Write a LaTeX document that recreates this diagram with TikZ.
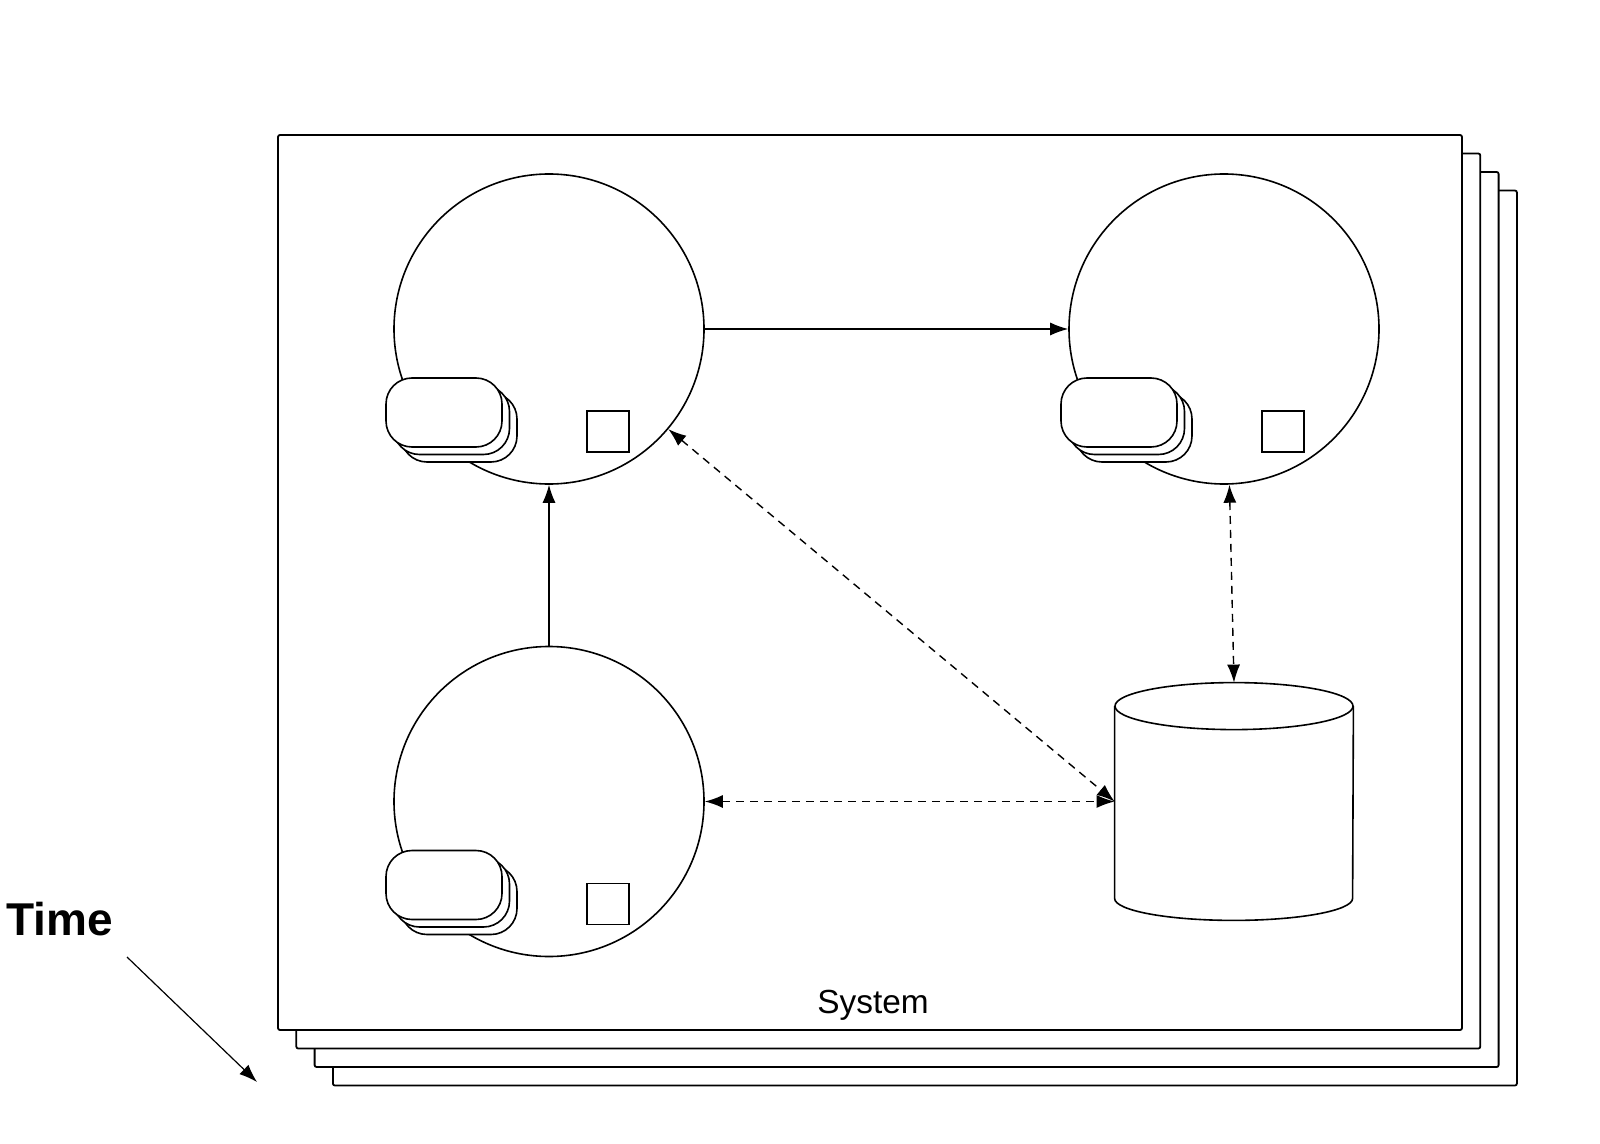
\documentclass[tikz,border=0pt]{standalone}
\usepackage{fontspec}
\setmainfont{Liberation Sans}
\usetikzlibrary{arrows.meta,positioning,shapes.geometric,calc}

\tikzset{
  page/.style={draw,fill=white,line width=0.9pt,rounded corners=1pt},
  proc/.style={circle,draw,line width=0.8pt,minimum size=155pt,inner sep=0pt},
  pill/.style={draw,fill=white,line width=0.8pt,rounded corners=13pt},
  slot/.style={draw,fill=white,line width=0.8pt},
  store/.style={rectangle,minimum width=119pt,minimum height=118.5pt,inner sep=0pt},
  storeline/.style={line width=0.8pt},
  flow/.style={-{Latex[length=9pt,width=6.5pt]},line width=0.6pt},
  link/.style={{Latex[length=9pt,width=6.5pt]}-{Latex[length=9pt,width=6.5pt]},line width=0.7pt,dash pattern=on 4pt off 3pt}
}

\begin{document}
\begin{tikzpicture}[x=0.5pt,y=-0.5pt]
  \useasboundingbox (0,0) rectangle (1600,1144);

  % stacked system snapshots
  \foreach \k in {3,2,1} {
    \draw[page] ($(278,135)+\k*(18.3,18.5)$) rectangle ++(1184,895);
  }
  \draw[page] (278,135) rectangle (1462,1030);
  \node[anchor=base,font=\fontsize{16.7}{20}\selectfont] (sys) at (873,1013) {System};

  % processes and store
  \node[proc] (tl) at (549,329) {};
  \node[proc] (tr) at (1224,329) {};
  \node[proc] (bl) at (549,801.5) {};
  \node[store] (db) at (1234,801.5) {};
  \draw[storeline] ($(db.north)+(0,23.5)$) ellipse [x radius=119,y radius=23.5];
  \draw[storeline] ($(db.north west)+(0,23.5)$) -- ($(db.south west)+(0,-22)$)
    arc[start angle=180,end angle=0,x radius=119,y radius=22] -- ($(db.north east)+(0,23.5)$);

  \foreach \c in {tl,tr,bl} {
    \draw[pill] ($(\c)+(-148,64)$) rectangle ++(116,69);
    \draw[pill] ($(\c)+(-155.5,56.5)$) rectangle ++(116,69);
    \draw[pill] ($(\c)+(-163,49)$) rectangle ++(116,69);
    \draw[slot] ($(\c)+(38,82)$) rectangle ++(42,41);
  }

  % messages
  \draw[flow] (tl.east) -- (tr.west);
  \draw[flow] (bl.north) -- (tl.south);
  \draw[link] (tl.-40) -- (db.west);
  \draw[link] (bl.east) -- (db.west);
  \draw[link] (tr.-88) -- (db.north);

  % time axis
  \node[anchor=base west,font=\bfseries\fontsize{23}{27}\selectfont,inner sep=0pt] (time) at (6,935) {Time};
  \coordinate (t0) at (127,957);
  \coordinate (t1) at (257,1082);
  \draw[flow] (t0) -- (t1);
\end{tikzpicture}
\end{document}
